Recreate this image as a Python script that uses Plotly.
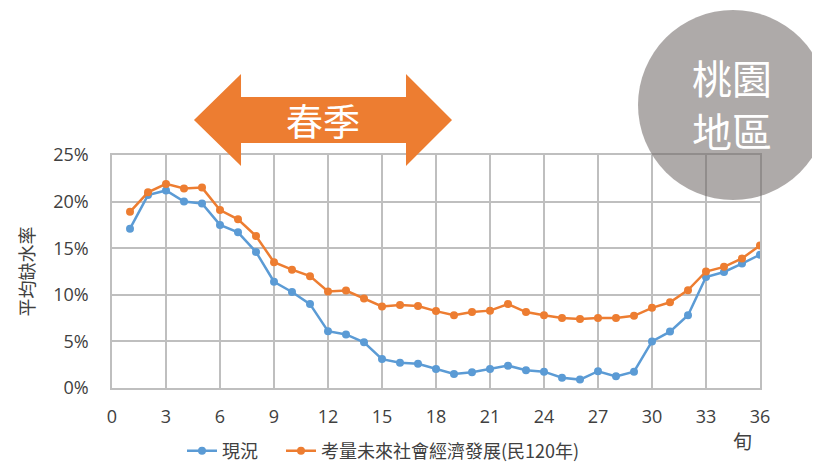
import plotly.graph_objects as go

xun = list(range(1, 37))
current = [17.1, 20.7, 21.2, 20.0, 19.8, 17.5, 16.7, 14.6, 11.4, 10.3, 9.0, 6.1, 5.75,
           4.9, 3.1, 2.7, 2.6, 2.05, 1.5, 1.7, 2.05, 2.4, 1.9, 1.75, 1.1, 0.9,
           1.8, 1.25, 1.75, 5.0, 6.05, 7.8, 11.9, 12.45, 13.35, 14.3]
future = [18.9, 21.0, 21.9, 21.4, 21.5, 19.1, 18.1, 16.3, 13.5, 12.7, 12.0, 10.35, 10.45,
          9.6, 8.75, 8.9, 8.8, 8.25, 7.8, 8.15, 8.3, 9.0, 8.15, 7.8, 7.5, 7.4,
          7.5, 7.5, 7.75, 8.6, 9.2, 10.5, 12.5, 13.0, 13.9, 15.3]
series_names = ["現況", "考量未來社會經濟發展(民120年)"]
x_ticks = list(range(0, 37, 3))
y_ticks = [0, 0.05, 0.10, 0.15, 0.20, 0.25]

OFF = 8  # page body margin
W, H = 820 - OFF, 462 - OFF
L, R, T, B = 112, 760, 155, 388  # plot area in page pixels


def fx(px):
    return (px - L) / (R - L)


def fy(py):
    return (B - py) / (B - T)


fig = go.Figure()
fig.add_trace(go.Scatter(x=xun, y=[v / 100 for v in current], name=series_names[0],
                         mode="lines+markers", line=dict(color="#5B9BD5", width=2.5),
                         marker=dict(size=8, color="#5B9BD5"), legend="legend"))
fig.add_trace(go.Scatter(x=xun, y=[v / 100 for v in future], name=series_names[1],
                         mode="lines+markers", line=dict(color="#ED7D31", width=2.5),
                         marker=dict(size=8, color="#ED7D31"), legend="legend2"))

# double arrow
pts = [(194, 120), (241, 74), (241, 97), (406, 97), (406, 74), (452, 120),
       (406, 166), (406, 143), (241, 143), (241, 166)]
path = "M " + " L ".join(f"{fx(a):.4f},{fy(b):.4f}" for a, b in pts) + " Z"
shapes = [
    dict(type="path", xref="paper", yref="paper", path=path,
         fillcolor="#ED7D31", line=dict(width=0), layer="above"),
    dict(type="circle", xref="paper", yref="paper",
         x0=fx(638), x1=fx(828), y0=fy(200), y1=fy(10),
         fillcolor="rgba(105,98,96,0.54)", line=dict(width=0), layer="above"),
]

annotations = [
    dict(text="春季", x=fx(323), y=fy(120), xref="paper", yref="paper", showarrow=False,
         font=dict(size=37, color="white", family="Noto Sans CJK TC"),
         xanchor="center", yanchor="middle"),
    dict(text="桃園", x=fx(732), y=fy(77), xref="paper", yref="paper",
         showarrow=False, font=dict(size=40, color="white", family="Noto Sans CJK TC"),
         xanchor="center", yanchor="middle"),
    dict(text="地區", x=fx(732), y=fy(130), xref="paper", yref="paper",
         showarrow=False, font=dict(size=40, color="white", family="Noto Sans CJK TC"),
         xanchor="center", yanchor="middle"),
    dict(text="旬", x=fx(742), y=fy(440), xref="paper", yref="paper", showarrow=False,
         font=dict(size=19, color="#404040", family="Noto Sans CJK TC"),
         xanchor="center", yanchor="middle"),
]

legend_font = dict(size=18, color="#404040", family="Noto Sans CJK TC")
fig.update_layout(
    width=W, height=H,
    margin=dict(l=L - OFF, r=W - (R - OFF), t=T - OFF, b=H - (B - OFF), autoexpand=False),
    paper_bgcolor="white", plot_bgcolor="white",
    font=dict(family="Open Sans, Noto Sans CJK TC", color="#404040"),
    shapes=shapes, annotations=annotations,
    showlegend=True,
    legend=dict(orientation="h", x=fx(182), y=fy(451), xanchor="left", yanchor="middle",
                font=legend_font, bgcolor="rgba(0,0,0,0)"),
    legend2=dict(orientation="h", x=fx(281), y=fy(451), xanchor="left", yanchor="middle",
                 font=legend_font, bgcolor="rgba(0,0,0,0)"),
)
fig.update_xaxes(range=[0, 36], tickvals=x_ticks, showgrid=True, gridcolor="#BFBFBF",
                 gridwidth=1.5, showline=True, linecolor="#BFBFBF", linewidth=1.5,
                 mirror=True, zeroline=False, ticks="", ticklabelstandoff=12,
                 automargin=False, tickfont=dict(size=18, color="#404040"))
fig.update_yaxes(range=[0, 0.25], tickvals=y_ticks, tickformat=".0%", showgrid=True,
                 gridcolor="#BFBFBF", gridwidth=1.5, showline=True, linecolor="#BFBFBF",
                 linewidth=1.5, mirror=True, zeroline=False, ticks="",
                 ticklabelstandoff=18, automargin=False,
                 tickfont=dict(size=18, color="#404040"),
                 title=dict(text="平均缺水率", standoff=14,
                            font=dict(size=18, color="#404040", family="Noto Sans CJK TC")))

fig.write_html("out.html")
